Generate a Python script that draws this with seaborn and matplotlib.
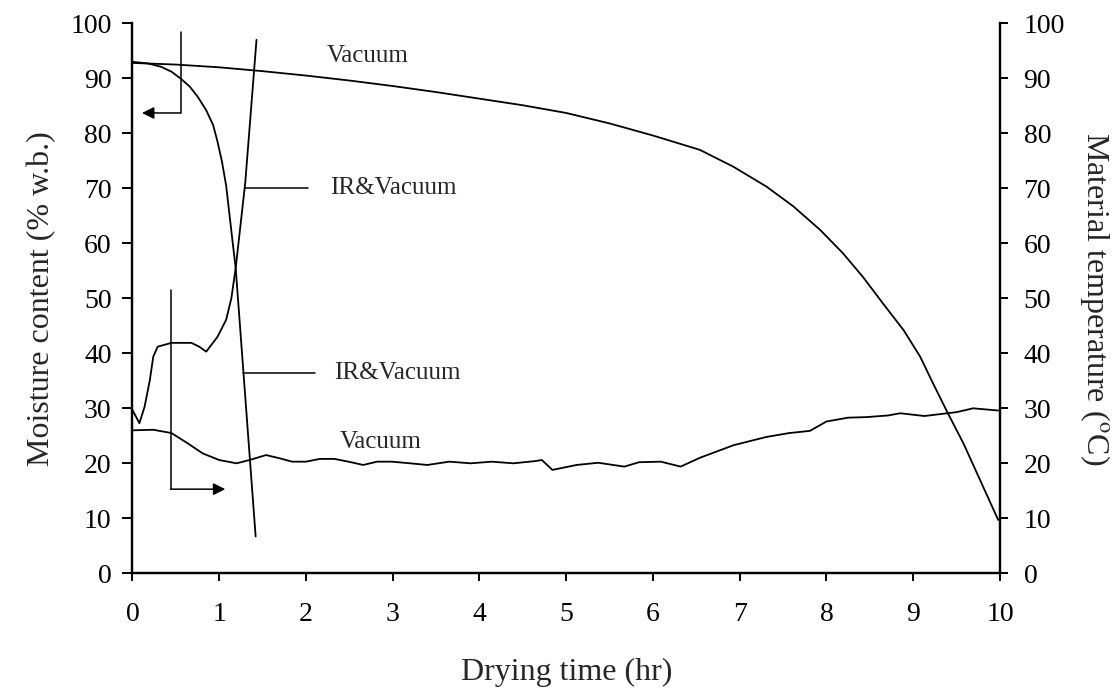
import matplotlib
matplotlib.use("Agg")
import matplotlib.pyplot as plt
import seaborn as sns

# Moisture content (% w.b.), left axis
time_vac_mc = [0, 0.5, 1, 1.5, 2, 2.5, 3, 3.5, 4, 4.5, 5, 5.5, 6, 6.54, 6.93,
               7.31, 7.62, 7.93, 8.19, 8.42, 8.65, 8.89, 9.08, 9.23, 9.40,
               9.58, 9.77, 9.98]
vac_mc = [92.8, 92.5, 92.0, 91.3, 90.5, 89.6, 88.6, 87.5, 86.3, 85.1, 83.7,
          81.8, 79.6, 77.0, 73.9, 70.3, 66.7, 62.4, 58.2, 53.9, 49.1, 44.2,
          39.4, 34.5, 29.1, 23.6, 17.0, 9.7]

time_ir_mc = [0, 0.18, 0.33, 0.45, 0.56, 0.66, 0.75, 0.85, 0.93, 0.98, 1.03,
              1.08, 1.12, 1.16, 1.19, 1.42]
ir_mc = [93.0, 92.7, 92.1, 91.2, 89.9, 88.5, 86.7, 84.2, 81.5, 78.5, 75.0,
         70.5, 65.0, 59.5, 55.5, 6.7]

# Material temperature (deg C), right axis
time_ir_t = [0, 0.08, 0.14, 0.20, 0.24, 0.29, 0.45, 0.68, 0.77, 0.85, 0.98,
             1.08, 1.14, 1.19, 1.30, 1.43]
ir_t = [29.7, 27.3, 30.3, 35.1, 39.4, 41.2, 41.9, 41.9, 41.2, 40.3, 43.0,
        46.1, 50.0, 55.5, 71.0, 97.0]

time_vac_t = [0, 0.24, 0.45, 0.64, 0.81, 1.0, 1.2, 1.35, 1.54, 1.7, 1.84, 2.0,
              2.16, 2.33, 2.49, 2.66, 2.82, 2.99, 3.2, 3.4, 3.65, 3.9, 4.14,
              4.39, 4.64, 4.72, 4.84, 5.12, 5.37, 5.67, 5.84, 6.09, 6.32, 6.54,
              6.93, 7.31, 7.57, 7.81, 8.0, 8.25, 8.46, 8.71, 8.85, 9.13, 9.34,
              9.5, 9.69, 9.98]
vac_t = [26.0, 26.1, 25.5, 23.6, 21.8, 20.6, 20.0, 20.6, 21.5, 20.9, 20.3,
         20.3, 20.8, 20.8, 20.3, 19.7, 20.3, 20.3, 20.0, 19.7, 20.3, 20.0, 20.3,
         20.0, 20.4, 20.6, 18.8, 19.7, 20.1, 19.4, 20.2, 20.3, 19.4, 21.0,
         23.3, 24.8, 25.5, 25.9, 27.6, 28.3, 28.4, 28.7, 29.1, 28.6, 29.0,
         29.3, 30.0, 29.6]

x_ticks = list(range(0, 11))
y_ticks = list(range(0, 101, 10))

sns.set_theme(style="ticks")
plt.rcParams["font.family"] = ["Liberation Serif", "DejaVu Serif"]
plt.rcParams["mathtext.fontset"] = "stix"

fig = plt.figure(figsize=(11.15, 6.94), dpi=100)
ax = fig.add_axes([0.1188, 0.1739, 0.7780, 0.7925])
ax2 = ax.twinx()

lw = 1.3
for x, y, a in [(time_vac_mc, vac_mc, ax), (time_ir_mc, ir_mc, ax),
                (time_ir_t, ir_t, ax2), (time_vac_t, vac_t, ax2)]:
    sns.lineplot(x=x, y=y, ax=a, color="black", lw=lw, sort=False,
                 estimator=None)

for a in (ax, ax2):
    a.set_xlim(0, 10)
    a.set_ylim(0, 100)
    a.set_yticks(y_ticks)
    a.spines["top"].set_visible(False)
    for s in ("left", "right", "bottom"):
        a.spines[s].set_linewidth(1.6)
        a.spines[s].set_color("black")

ax.set_xticks(x_ticks)
ax.tick_params(axis="y", labelsize=20, length=7, width=1.4,
               direction="out", colors="black", pad=8)
ax.tick_params(axis="x", labelsize=20, length=6, width=1.4,
               direction="out", colors="black", pad=15)
ax2.tick_params(axis="y", labelsize=20, length=6, width=1.4,
                direction="out", colors="black", pad=11)

ax.set_xlabel("Drying time (hr)", fontsize=23, labelpad=22)
ax.set_ylabel("Moisture content (% w.b.)", fontsize=23, labelpad=10)
ax2.set_ylabel("Material temperature ($^{\\mathrm{o}}$C)", fontsize=23,
               rotation=270, labelpad=34)

# curve labels with leader lines
fs = 18
ax.text(2.24, 94, "Vacuum", fontsize=fs, va="center", ha="left")
ax.text(2.28, 70, "IR&Vacuum", fontsize=fs, va="center", ha="left")
ax.plot([1.30, 2.02], [70, 70], color="black", lw=1.1)
ax.text(2.33, 36.4, "IR&Vacuum", fontsize=fs, va="center", ha="left")
ax.plot([1.28, 2.1], [36.4, 36.4], color="black", lw=1.1)
ax.text(2.39, 23.9, "Vacuum", fontsize=fs, va="center", ha="left")

# axis-indicator arrows
ax.plot([0.557, 0.557], [98.5, 83.7], color="black", lw=1.1)
ax.annotate("", xy=(0.11, 83.7), xytext=(0.557, 83.7),
            arrowprops=dict(arrowstyle="-|>", color="black", lw=1.1,
                            mutation_scale=18, shrinkA=0, shrinkB=0))
ax.plot([0.44, 0.44], [51.6, 15.3], color="black", lw=1.1)
ax.annotate("", xy=(1.07, 15.3), xytext=(0.44, 15.3),
            arrowprops=dict(arrowstyle="-|>", color="black", lw=1.1,
                            mutation_scale=18, shrinkA=0, shrinkB=0))

fig.savefig("out.png", dpi=100)
